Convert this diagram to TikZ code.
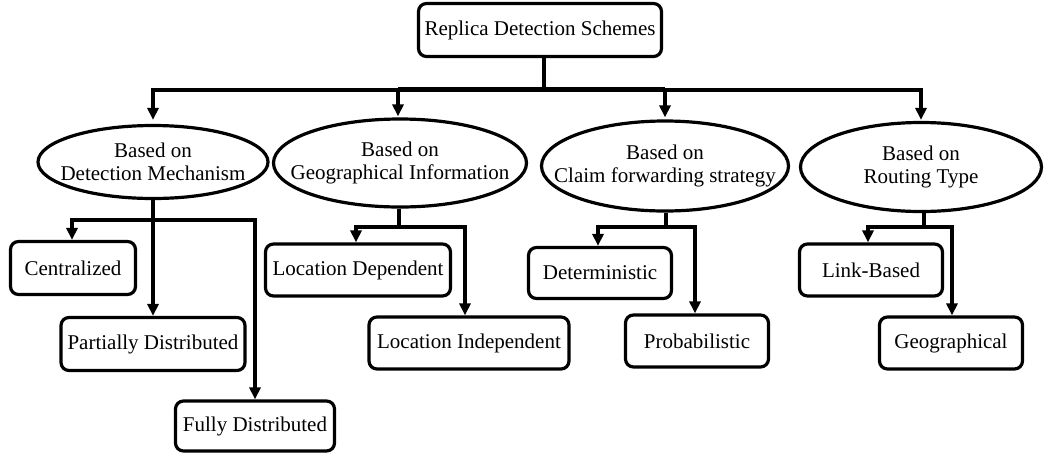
\documentclass[tikz,border=0pt]{standalone}
\usepackage{fontspec}
\setmainfont{Liberation Serif}
\usetikzlibrary{shapes.geometric,arrows.meta}
\begin{document}
\begin{tikzpicture}[x=1pt,y=-1pt,
  every node/.style={font=\fontsize{21}{23.5}\selectfont, inner sep=0pt},
  leaf/.style={draw, line width=3.2pt, rounded corners=8pt, align=center},
  branch/.style={draw, ellipse, line width=3.2pt},
  caption/.style={align=center},
  ln/.style={line width=3.2pt},
  arr/.style={line width=3.2pt, -{Triangle[length=12pt,width=11pt]}}]
\useasboundingbox (0,0) rectangle (1053,456);

% root
\node[leaf, minimum width=243, minimum height=53] (root) at (540,30) {Replica Detection Schemes};

% criteria: fixed-size ellipses with their captions laid on top
\node[branch, minimum width=230, minimum height=73] (e1) at (153,162) {};
\node[caption] (e1t) at (e1) {Based on\\Detection Mechanism};
\node[branch, minimum width=253, minimum height=88] (e2) at (400,163) {};
\node[caption] (e2t) at (e2) {Based on\\Geographical Information};
\node[branch, minimum width=247, minimum height=90] (e3) at (665,166) {};
\node[caption] (e3t) at (e3) {Based on\\Claim forwarding strategy};
\node[branch, minimum width=241, minimum height=89] (e4) at (921,167) {};
\node[caption] (e4t) at (e4) {Based on\\Routing Type};

% schemes
\node[leaf, minimum width=125, minimum height=53] (c1) at (73,268) {Centralized};
\node[leaf, minimum width=184, minimum height=53] (c2) at (153,344) {Partially Distributed};
\node[leaf, minimum width=159, minimum height=50] (c3) at (255,426) {Fully Distributed};

\node[leaf, minimum width=185, minimum height=52] (g1) at (358,270) {Location Dependent};
\node[leaf, minimum width=200, minimum height=52] (g2) at (469,343) {Location Independent};

\node[leaf, minimum width=143, minimum height=51] (f1) at (600,273) {Deterministic};
\node[leaf, minimum width=143, minimum height=52] (f2) at (697,341) {Probabilistic};

\node[leaf, minimum width=143, minimum height=52] (r1) at (871,270) {Link-Based};
\node[leaf, minimum width=143, minimum height=52] (r2) at (951,343) {Geographical};

% root to criteria
\coordinate (jt) at (544,90);
\draw[ln] (root.south -| jt) -- (jt);
\draw[arr] (jt) -| ([yshift=4pt]e1.north);
\draw[arr] (jt) -| ([xshift=-2pt,yshift=1pt]e2.north);
\draw[arr] (jt) -| ([yshift=2pt]e3.north);
\draw[arr] (jt) -| ([yshift=1pt]e4.north);
% heavier middle stretch of the bus
\draw[line width=4.6pt] ([xshift=-2pt,yshift=1pt]jt -| e2.north) -- ([yshift=1pt]jt -| e3.north);

% detection mechanism
\coordinate (j1) at (153,220);
\draw[ln] (e1.south) -- (j1);
\draw[arr] (j1) -| ([xshift=-1pt]c1.north);
\draw[arr] (j1) -- (c2.north);
\draw[arr] (j1) -| (c3.north);

% geographical information
\coordinate (j2) at (399,227);
\draw[ln] (e2.south -| j2) -- (j2);
\draw[arr] (j2) -| ([xshift=-2pt]g1.north);
\draw[arr] (j2) -| ([xshift=-4pt]g2.north);

% claim forwarding strategy
\coordinate (j3) at (666,227);
\draw[ln] (e3.south -| j3) -- (j3);
\draw[arr] (j3) -| ([xshift=-2pt]f1.north);
\draw[arr] (j3) -| ([xshift=-2pt]f2.north);

% routing type
\coordinate (j4) at (924,227);
\draw[ln] (e4.south -| j4) -- (j4);
\draw[arr] (j4) -| ([xshift=-3pt]r1.north);
\draw[arr] (j4) -| ([xshift=1pt]r2.north);
\end{tikzpicture}
\end{document}
